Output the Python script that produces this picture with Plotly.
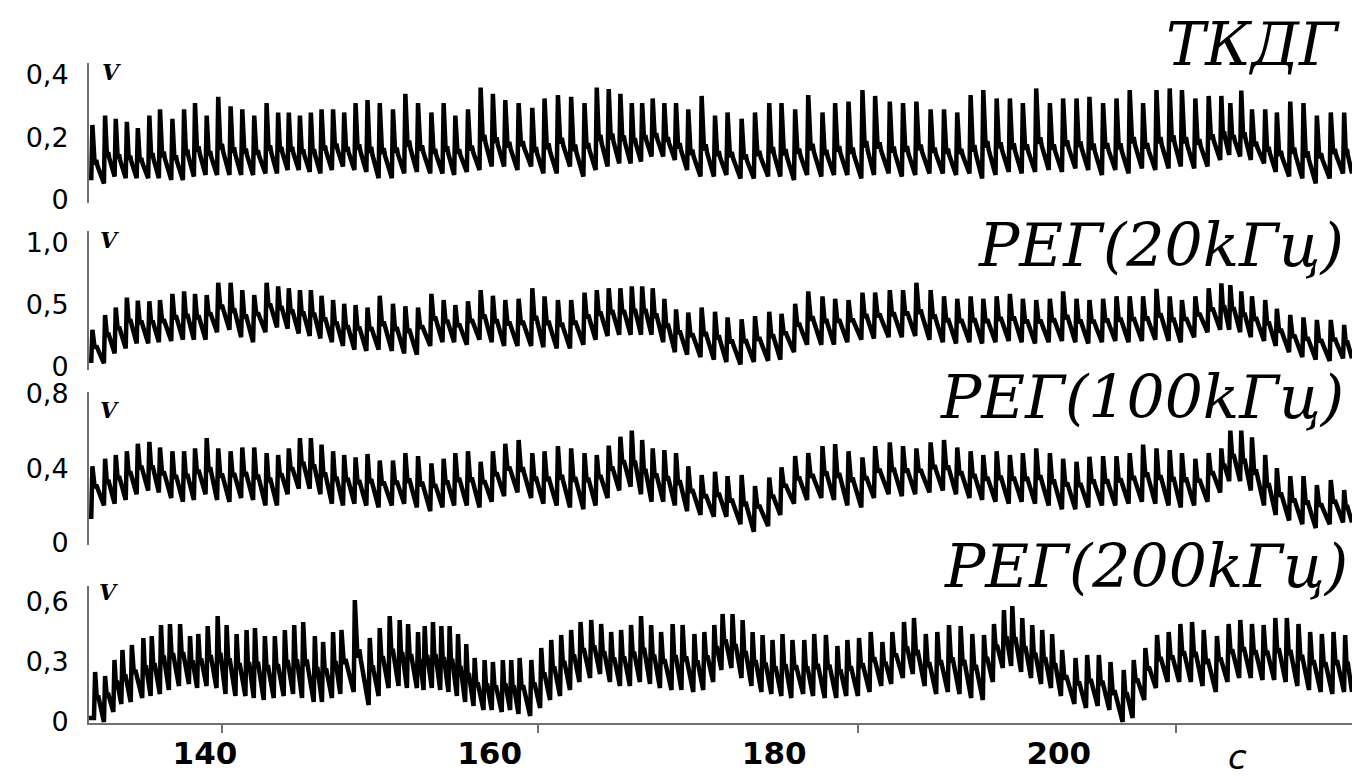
import plotly.graph_objects as go

# ---------------- data ----------------
# beat (systolic peak) times, seconds - shared by the first three channels
beat_times = [132.09,132.98,133.73,134.51,135.28,136.09,136.84,137.71,138.53,139.30,140.12,140.93,141.80,142.62,143.46,144.33,145.14,145.89,146.67,147.44,148.19,149.00,149.78,150.58,151.42,152.28,153.21,154.08,154.97,155.91,156.77,157.59,158.48,159.37,160.23,161.10,
              162.04,163.00,163.86,164.80,165.73,166.67,167.53,168.37,169.19,169.99,170.72,171.46,172.28,173.10,173.96,174.90,175.84,176.72,177.71,178.65,179.65,180.51,181.47,182.39,183.39,184.28,185.22,186.20,187.09,188.12,189.05,189.99,190.99,
              191.93,192.86,193.80,194.69,195.63,196.56,197.47,198.41,199.37,200.30,201.24,202.15,203.11,204.05,204.98,205.92,206.86,207.79,208.65,209.59,210.53,211.42,212.05,212.82,213.57,214.50,215.32,216.26,217.19,218.13,219.11,220.05]

tkdg_peak = [0.24,0.27,0.26,0.25,0.23,0.27,0.29,0.26,0.29,0.31,0.27,0.33,0.30,0.29,0.27,0.31,0.28,0.28,0.27,0.28,0.29,0.29,0.28,0.31,0.32,0.31,0.29,0.34,0.31,0.28,0.31,0.27,0.29,0.36,0.34,0.32,
             0.31,0.295,0.325,0.336,0.33,0.31,0.36,0.355,0.34,0.31,0.31,0.325,0.31,0.31,0.29,0.333,0.27,0.28,0.26,0.28,0.31,0.31,0.29,0.336,0.28,0.31,0.315,0.352,0.333,0.315,0.31,0.315,0.29,
             0.29,0.28,0.336,0.352,0.325,0.325,0.31,0.357,0.31,0.325,0.325,0.33,0.31,0.325,0.352,0.31,0.352,0.357,0.352,0.325,0.333,0.333,0.31,0.35,0.29,0.29,0.28,0.315,0.31,0.27,0.28,0.28]
tkdg_trough = [0.07,0.053,0.075,0.07,0.07,0.07,0.07,0.064,0.064,0.075,0.08,0.08,0.08,0.08,0.08,0.085,0.085,0.096,0.096,0.09,0.085,0.096,0.107,0.096,0.09,0.07,0.07,0.085,0.09,0.085,0.085,0.08,0.09,0.096,0.107,0.107,
               0.096,0.107,0.085,0.085,0.107,0.075,0.096,0.107,0.117,0.117,0.123,0.139,0.139,0.128,0.096,0.075,0.075,0.08,0.069,0.069,0.075,0.075,0.064,0.08,0.075,0.08,0.08,0.069,0.08,0.085,0.075,0.08,0.085,
               0.085,0.08,0.085,0.069,0.08,0.09,0.085,0.09,0.096,0.09,0.101,0.096,0.08,0.096,0.085,0.101,0.096,0.101,0.107,0.101,0.107,0.128,0.144,0.139,0.128,0.117,0.09,0.075,0.069,0.053,0.069,0.085]

reg20_peak = [0.30,0.42,0.48,0.56,0.535,0.53,0.54,0.59,0.61,0.59,0.58,0.68,0.68,0.62,0.58,0.68,0.65,0.635,0.62,0.62,0.575,0.54,0.51,0.50,0.48,0.575,0.51,0.49,0.48,0.59,0.54,0.50,0.53,0.62,0.575,0.54,
              0.55,0.635,0.57,0.54,0.54,0.60,0.62,0.635,0.635,0.65,0.65,0.635,0.55,0.465,0.44,0.48,0.446,0.40,0.385,0.41,0.446,0.43,0.51,0.61,0.57,0.55,0.54,0.60,0.60,0.62,0.62,0.68,0.62,
              0.57,0.55,0.57,0.55,0.57,0.59,0.55,0.54,0.55,0.61,0.55,0.54,0.55,0.57,0.57,0.57,0.63,0.57,0.54,0.57,0.635,0.675,0.66,0.61,0.57,0.54,0.47,0.42,0.40,0.38,0.38,0.34]
reg20_trough = [0.05,0.03,0.11,0.15,0.19,0.19,0.2,0.21,0.22,0.22,0.22,0.28,0.30,0.24,0.20,0.28,0.32,0.31,0.27,0.25,0.23,0.2,0.17,0.14,0.13,0.14,0.13,0.11,0.10,0.17,0.2,0.2,0.18,0.22,0.2,0.17,
                0.17,0.17,0.16,0.15,0.15,0.18,0.22,0.25,0.26,0.26,0.26,0.26,0.2,0.12,0.1,0.08,0.06,0.04,0.02,0.04,0.05,0.06,0.12,0.18,0.18,0.18,0.2,0.22,0.23,0.24,0.24,0.25,0.22,
                0.2,0.19,0.2,0.19,0.2,0.21,0.2,0.19,0.2,0.21,0.2,0.19,0.2,0.21,0.2,0.21,0.22,0.21,0.2,0.24,0.28,0.3,0.3,0.28,0.24,0.21,0.17,0.12,0.08,0.06,0.05,0.07]

reg100_peak = [0.41,0.45,0.47,0.49,0.53,0.54,0.51,0.49,0.49,0.505,0.56,0.505,0.49,0.51,0.51,0.48,0.47,0.505,0.56,0.56,0.525,0.49,0.47,0.457,0.475,0.44,0.44,0.48,0.464,0.425,0.45,0.48,0.49,0.434,0.49,0.53,
               0.55,0.48,0.49,0.517,0.505,0.48,0.47,0.52,0.567,0.60,0.55,0.505,0.496,0.48,0.41,0.363,0.38,0.357,0.363,0.304,0.35,0.404,0.464,0.48,0.517,0.528,0.49,0.457,0.517,0.537,0.517,0.505,0.537,
               0.55,0.51,0.49,0.47,0.49,0.47,0.48,0.505,0.48,0.45,0.434,0.46,0.464,0.464,0.48,0.525,0.505,0.496,0.48,0.45,0.48,0.505,0.60,0.60,0.564,0.47,0.40,0.357,0.357,0.31,0.336,0.283]
reg100_trough = [0.14,0.2,0.21,0.23,0.26,0.28,0.27,0.24,0.22,0.23,0.26,0.23,0.22,0.24,0.23,0.2,0.2,0.26,0.29,0.29,0.26,0.21,0.2,0.21,0.2,0.19,0.2,0.21,0.19,0.17,0.19,0.2,0.2,0.19,0.22,0.25,
                 0.27,0.24,0.21,0.2,0.19,0.18,0.2,0.24,0.28,0.3,0.26,0.22,0.22,0.2,0.17,0.15,0.14,0.14,0.1,0.06,0.09,0.15,0.21,0.23,0.24,0.23,0.2,0.19,0.24,0.26,0.25,0.26,0.27,
                 0.28,0.26,0.24,0.23,0.22,0.21,0.22,0.21,0.2,0.18,0.18,0.19,0.2,0.2,0.21,0.22,0.21,0.2,0.19,0.2,0.22,0.27,0.33,0.33,0.28,0.2,0.15,0.12,0.1,0.08,0.1,0.11]

# the 200 kHz channel shows its own, denser stroke pattern
reg200_times = [132.28,132.98,133.64,134.20,134.86,135.67,136.26,136.91,137.54,138.25,138.95,139.53,140.19,140.89,141.52,142.22,142.92,143.51,144.21,144.91,145.61,146.27,146.90,147.72,148.30,149.00,149.59,150.53,151.58,152.28,152.98,153.68,154.27,154.97,155.44,156.02,156.61,157.19,157.78,158.36,158.95,159.65,160.23,160.93,161.52,
                162.11,162.93,163.63,164.33,165.03,165.73,166.39,167.14,167.84,168.54,169.24,169.94,170.64,171.35,172.05,172.86,173.56,174.39,175.09,175.79,176.37,177.07,177.78,178.48,179.18,179.88,180.58,181.28,182.11,182.81,183.63,184.44,185.14,185.96,186.78,187.60,188.30,189.12,189.82,190.65,
                191.46,192.28,193.10,193.92,194.74,195.44,196.14,196.73,197.43,198.13,198.83,199.53,200.23,201.17,201.99,202.81,203.63,204.56,205.26,206.08,206.90,207.72,208.54,209.36,210.18,211.11,211.93,212.75,213.57,214.39,215.21,216.02,216.84,217.66,218.48,219.30,220.12]
reg200_peak = [0.25,0.23,0.31,0.36,0.385,0.42,0.43,0.485,0.49,0.49,0.43,0.44,0.48,0.53,0.485,0.44,0.46,0.47,0.43,0.43,0.46,0.485,0.50,0.43,0.40,0.45,0.46,0.61,0.42,0.47,0.53,0.51,0.49,0.45,0.48,0.50,0.48,0.48,0.44,0.39,0.32,0.31,0.30,0.31,0.31,
               0.32,0.31,0.37,0.41,0.435,0.46,0.50,0.51,0.49,0.45,0.46,0.485,0.53,0.485,0.45,0.49,0.485,0.44,0.45,0.485,0.54,0.54,0.51,0.45,0.435,0.41,0.44,0.41,0.41,0.44,0.435,0.38,0.41,0.42,0.45,0.40,0.45,0.50,0.52,0.44,
               0.45,0.485,0.48,0.44,0.435,0.49,0.56,0.58,0.52,0.485,0.46,0.44,0.36,0.32,0.335,0.335,0.30,0.26,0.31,0.37,0.435,0.45,0.49,0.50,0.46,0.43,0.49,0.51,0.49,0.485,0.52,0.52,0.49,0.45,0.44,0.45,0.435]
reg200_trough = [0.02,0.0,0.05,0.09,0.1,0.12,0.13,0.14,0.16,0.18,0.19,0.17,0.18,0.17,0.14,0.13,0.13,0.12,0.11,0.12,0.13,0.14,0.12,0.1,0.1,0.12,0.14,0.15,0.085,0.13,0.17,0.18,0.17,0.17,0.16,0.17,0.16,0.15,0.13,0.1,0.08,0.06,0.06,0.05,0.06,
                 0.04,0.03,0.07,0.11,0.13,0.16,0.2,0.22,0.24,0.2,0.18,0.18,0.2,0.19,0.17,0.16,0.16,0.15,0.16,0.2,0.26,0.27,0.22,0.18,0.15,0.14,0.13,0.12,0.14,0.13,0.12,0.12,0.13,0.13,0.15,0.18,0.19,0.22,0.24,0.18,
                 0.14,0.15,0.14,0.12,0.11,0.2,0.27,0.28,0.25,0.22,0.19,0.17,0.13,0.09,0.07,0.08,0.06,0.0,0.02,0.11,0.17,0.2,0.2,0.2,0.18,0.15,0.2,0.22,0.22,0.21,0.21,0.2,0.18,0.16,0.15,0.14,0.15]

titles = ["ТКДГ", "РЕГ(20kГц)", "РЕГ(100kГц)", "РЕГ(200kГц)"]
y_tickvals = [[0, 0.2, 0.4], [0, 0.5, 1.0], [0, 0.4, 0.8], [0, 0.3, 0.6]]
y_ticktext = [["0", "0,2", "0,4"], ["0", "0,5", "1,0"], ["0", "0,4", "0,8"], ["0", "0,3", "0,6"]]
x_tickvals = [140, 160, 180, 200]
x_ticktext = ["140", "160", "180", "200"]
x_minor_ticks = [141.2, 163.4, 185.9, 208.2]

# ---------------- drawing ----------------
T_START, T_END = 131.85, 220.6
W, H = 1368, 779
OFF = 8  # page offset of the figure inside the browser window


def px2x(px):
    return (px - OFF) / W


def px2y(py):
    return 1 - (py - OFF) / H


def waveform(times, peaks, troughs, frac):
    """Join read troughs and peaks: steep rise, quick fall to a shoulder, slow decay."""
    xs, ys = [T_START], [troughs[0]]
    n = len(times)
    for i in range(n):
        t = times[i]
        xs += [t - 0.08, t]
        ys += [troughs[i], peaks[i]]
        if i + 1 < n:
            nt, ntr = times[i + 1], troughs[i + 1]
        else:
            nt, ntr = T_END + 0.1, troughs[i]
        dt = nt - t
        amp = peaks[i] - ntr
        sh = ntr + frac * amp
        xs += [t + 0.18 * dt, t + 0.30 * dt, t + 0.40 * dt]
        ys += [sh, sh + 0.08 * amp, sh - 0.02 * amp]
    xs.append(T_END)
    ys.append(troughs[-1])
    return xs, ys


series = [
    (beat_times, tkdg_peak, tkdg_trough, 0.32),
    (beat_times, reg20_peak, reg20_trough, 0.45),
    (beat_times, reg100_peak, reg100_trough, 0.45),
    (reg200_times, reg200_peak, reg200_trough, 0.45),
]

fig = go.Figure()
for k, (tt, pk, tr, fr) in enumerate(series, start=1):
    xs, ys = waveform(tt, pk, tr, fr)
    fig.add_trace(go.Scatter(x=xs, y=ys, mode="lines",
                             line=dict(color="black", width=4.5),
                             xaxis=f"x{k}", yaxis=f"y{k}",
                             showlegend=False, hoverinfo="skip"))

# invisible trace to carry the extra bottom tick marks
fig.add_trace(go.Scatter(x=[None], y=[None], xaxis="x5", yaxis="y4",
                         showlegend=False, hoverinfo="skip"))

xdom = [px2x(89), px2x(1352)]
# (bottom px, top px) of each panel and its value range
panels = [
    (203.1, 62.5, [-0.01, 0.44]),
    (369.5, 230.6, [-0.02, 1.1]),
    (544.9, 392.0, [-0.01, 0.806]),
    (723.0, 586.0, [-0.005, 0.68]),
]

layout = dict(
    template="none",
    width=W, height=H,
    margin=dict(l=0, r=0, t=0, b=0, pad=0, autoexpand=False),
    paper_bgcolor="white", plot_bgcolor="white",
    showlegend=False,
)
for k, (pb, pt, rng) in enumerate(panels, start=1):
    ydom = [px2y(pb), px2y(pt)]
    layout[f"xaxis{k}"] = dict(
        domain=xdom, range=[T_START, T_END], anchor=f"y{k}",
        showgrid=False, zeroline=False, fixedrange=True, automargin=False,
        visible=(k == 4),
        showline=(k == 4), linecolor="#707070", linewidth=2,
        ticks="", tickvals=x_tickvals, ticktext=x_ticktext,
        tickfont=dict(family="DejaVu Sans", size=31, color="black", weight="bold"),
        ticklabelstandoff=2,
    )
    layout[f"yaxis{k}"] = dict(
        domain=ydom, range=rng, anchor=f"x{k}",
        showgrid=False, zeroline=False, fixedrange=True, automargin=False,
        showline=True, linecolor="#707070", linewidth=2,
        ticks="", tickvals=y_tickvals[k - 1], ticktext=y_ticktext[k - 1],
        tickfont=dict(family="DejaVu Sans", size=27, color="black"),
        ticklabelstandoff=13,
    )

layout["xaxis5"] = dict(
    domain=xdom, range=[T_START, T_END], anchor="y4", overlaying="x4",
    side="bottom", showgrid=False, zeroline=False, showline=False, automargin=False,
    ticks="outside", ticklen=9, tickwidth=2, tickcolor="#707070",
    tickvals=x_minor_ticks, showticklabels=False, fixedrange=True,
)

fig.update_layout(**layout)

# channel titles
title_pos = [(1342, 45, 59), (1346, 245, 60), (1346, 397, 60), (1350, 566, 60)]
for txt, (px, py, fs) in zip(titles, title_pos):
    fig.add_annotation(text=txt, xref="paper", yref="paper",
                       x=px2x(px), y=px2y(py), xanchor="right", yanchor="middle",
                       showarrow=False,
                       font=dict(family="DejaVu Serif", size=fs, color="black", style="italic"))

# unit marks "V"
v_pos = [(111, 72), (109, 240), (109, 410), (108, 592)]
for px, py in v_pos:
    fig.add_annotation(text="V", xref="paper", yref="paper",
                       x=px2x(px), y=px2y(py), xanchor="center", yanchor="middle",
                       showarrow=False,
                       font=dict(family="DejaVu Serif", size=22, color="black",
                                 style="italic", weight="bold"))

# time unit
fig.add_annotation(text="c", xref="paper", yref="paper",
                   x=px2x(1237), y=px2y(757), xanchor="center", yanchor="middle",
                   showarrow=False,
                   font=dict(family="DejaVu Sans", size=34, color="black", style="italic"))

fig.write_html("out.html")
